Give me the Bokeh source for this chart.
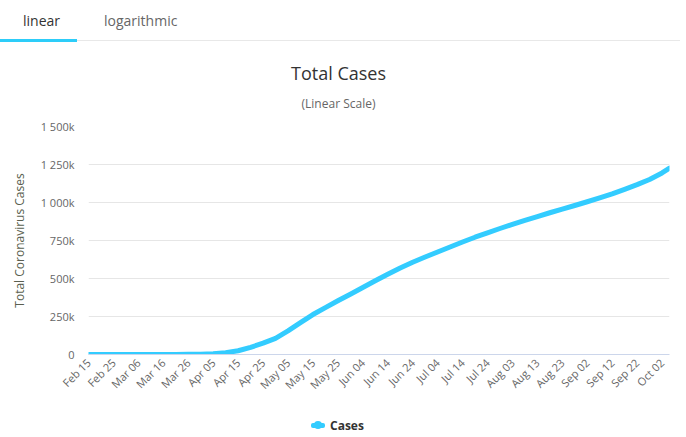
import pandas as pd
from bokeh.plotting import figure
from bokeh.models import FixedTicker, Div, Range1d, ColumnDataSource
from bokeh.layouts import column
from bokeh.embed import file_html
from bokeh.resources import INLINE

# ---- data ----
dates = ["2020-02-15", "2020-02-20", "2020-02-25", "2020-03-01", "2020-03-06",
         "2020-03-11", "2020-03-16", "2020-03-21", "2020-03-26", "2020-03-31",
         "2020-04-05", "2020-04-10", "2020-04-15", "2020-04-20", "2020-04-25",
         "2020-04-30", "2020-05-05", "2020-05-10", "2020-05-15", "2020-05-20",
         "2020-05-25", "2020-05-30", "2020-06-04", "2020-06-09", "2020-06-14",
         "2020-06-19", "2020-06-24", "2020-06-29", "2020-07-04", "2020-07-09",
         "2020-07-14", "2020-07-19", "2020-07-24", "2020-07-29", "2020-08-03",
         "2020-08-08", "2020-08-13", "2020-08-18", "2020-08-23", "2020-08-28",
         "2020-09-02", "2020-09-07", "2020-09-12", "2020-09-17", "2020-09-22",
         "2020-09-27", "2020-10-02", "2020-10-05"]
cases = [2, 2, 2, 2, 4,
         20, 93, 306, 840, 2337,
         5389, 11917, 24490, 47121, 74588,
         106498, 155370, 209688, 262843, 308705,
         353427, 396575, 441108, 485253, 528267,
         569063, 606881, 641156, 674515, 707301,
         739947, 771546, 800849, 828990, 856264,
         882347, 907758, 932493, 956749, 980405,
         1005000, 1030690, 1057362, 1086955, 1117487,
         1151438, 1194643, 1225889]
x_tick_labels = ["Feb 15", "Feb 25", "Mar 06", "Mar 16", "Mar 26", "Apr 05",
                 "Apr 15", "Apr 25", "May 05", "May 15", "May 25", "Jun 04",
                 "Jun 14", "Jun 24", "Jul 04", "Jul 14", "Jul 24", "Aug 03",
                 "Aug 13", "Aug 23", "Sep 02", "Sep 12", "Sep 22", "Oct 02"]
y_ticks = [0, 250000, 500000, 750000, 1000000, 1250000, 1500000]
y_tick_labels = ["0", "250k", "500k", "750k", "1 000k", "1 250k", "1 500k"]
title_text = "Total Cases"
subtitle_text = "(Linear Scale)"
y_title = "Total Coronavirus Cases"
series_name = "Cases"
tab_names = ["linear", "logarithmic"]

start = pd.Timestamp(dates[0])
day_idx = [(pd.Timestamp(d) - start).days for d in dates]
x_ticks = [10 * i for i in range(len(x_tick_labels))]

FONT = "Open Sans"
LINE_COLOR = "#33ccff"

header = Div(
    text=(
        '<div style="position:relative;width:686px;height:116px;font-family:\'Open Sans\';">'
        f'<span style="position:absolute;left:23px;top:11px;font-size:14px;color:#333333;">{tab_names[0]}</span>'
        f'<span style="position:absolute;left:104px;top:11px;font-size:14px;color:#666666;">{tab_names[1]}</span>'
        '<div style="position:absolute;left:0px;top:40px;width:680px;height:1px;background:#e8e8e8;"></div>'
        '<div style="position:absolute;left:0px;top:39px;width:77px;height:3px;background:#2dcdf9;"></div>'
        f'<div style="position:absolute;left:0px;top:61px;width:677px;text-align:center;font-size:18px;color:#333333;">{title_text}</div>'
        f'<div style="position:absolute;left:0px;top:95px;width:677px;text-align:center;font-size:12px;color:#666666;">{subtitle_text}</div>'
        '</div>'
    ),
    width=686, height=116, margin=(0, 0, 0, 0),
)

p = figure(width=686, height=288, output_backend="svg", toolbar_location=None,
           min_border_left=88, min_border_right=17, min_border_top=10,
           min_border_bottom=50, x_range=Range1d(0, day_idx[-1]),
           y_range=Range1d(0, 1500000))
p.outline_line_color = None
p.background_fill_color = "white"
p.border_fill_color = "white"

src = ColumnDataSource(dict(x=day_idx, y=cases))
p.line("x", "y", source=src, line_color=LINE_COLOR, line_width=5,
       line_join="round", line_cap="round")

# axes
p.xaxis.ticker = FixedTicker(ticks=x_ticks)
p.xaxis.major_label_overrides = {t: l for t, l in zip(x_ticks, x_tick_labels)}
p.xaxis.major_label_orientation = 0.785398
p.xaxis.axis_line_color = "#ccd6eb"
p.xaxis.major_tick_line_color = None
p.xaxis.minor_tick_line_color = None
p.xaxis.major_tick_out = 0
p.xaxis.major_tick_in = 0
p.xaxis.major_label_standoff = 6
p.xaxis.major_label_text_font = FONT
p.xaxis.major_label_text_font_size = "11px"
p.xaxis.major_label_text_color = "#666666"

p.yaxis.ticker = FixedTicker(ticks=y_ticks)
p.yaxis.major_label_overrides = {t: l for t, l in zip(y_ticks, y_tick_labels)}
p.yaxis.axis_line_color = None
p.yaxis.major_tick_line_color = None
p.yaxis.minor_tick_line_color = None
p.yaxis.major_tick_out = 0
p.yaxis.major_tick_in = 0
p.yaxis.major_label_standoff = 14
p.yaxis.major_label_text_font = FONT
p.yaxis.major_label_text_font_size = "11px"
p.yaxis.major_label_text_color = "#666666"
p.yaxis.axis_label = y_title
p.yaxis.axis_label_standoff = 10
p.yaxis.axis_label_text_font = FONT
p.yaxis.axis_label_text_font_size = "12px"
p.yaxis.axis_label_text_font_style = "normal"
p.yaxis.axis_label_text_color = "#5a5f50"

p.xgrid.grid_line_color = None
p.ygrid.grid_line_color = "#e6e6e6"
p.ygrid.grid_line_width = 1

footer = Div(
    text=(
        '<div style="position:relative;width:686px;height:33px;font-family:\'Open Sans\';">'
        f'<div style="position:absolute;left:311px;top:19px;width:14px;height:5px;border-radius:2px;background:{LINE_COLOR};"></div>'
        f'<div style="position:absolute;left:314px;top:17px;width:8px;height:8px;border-radius:4px;background:{LINE_COLOR};"></div>'
        f'<span style="position:absolute;left:330px;top:13px;font-size:12px;font-weight:bold;color:#333333;">{series_name}</span>'
        '</div>'
    ),
    width=686, height=33, margin=(0, 0, 0, 0),
)

layout = column(header, p, footer, spacing=0)
open("out.html", "w").write(file_html(layout, INLINE))
